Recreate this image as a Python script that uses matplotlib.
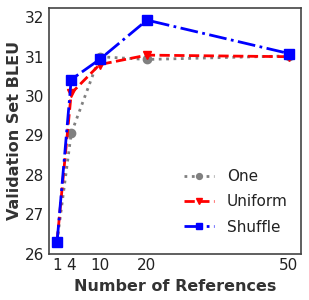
import matplotlib
matplotlib.use("Agg")
import matplotlib.pyplot as plt

refs = [1, 4, 10, 20, 50]
bleu_one = [26.30, 29.05, 31.00, 30.93, 31.02]
bleu_uniform = [26.30, 30.07, 30.80, 31.04, 31.00]
bleu_shuffle = [26.28, 30.42, 30.93, 31.93, 31.08]

plt.rcParams.update({"font.family": "DejaVu Sans", "font.size": 11})

fig, ax = plt.subplots(figsize=(3.09, 3.0), dpi=100)
ax.plot(refs, bleu_one, color="gray", ls=":", lw=2, marker="o", ms=6, label="One")
ax.plot(refs, bleu_uniform, color="red", ls="--", lw=2, marker="v", ms=6, label="Uniform")
ax.plot(refs, bleu_shuffle, color="blue", ls="-.", lw=2, marker="s", ms=6.5, label="Shuffle")

ax.set_xlim(-0.6, 52.6)
ax.set_ylim(26, 32.25)
ax.set_xticks(refs)
ax.set_yticks([26, 27, 28, 29, 30, 31, 32])
ax.tick_params(length=0, labelsize=11, colors="#222222")
for s in ax.spines.values():
    s.set_color("#444444")
    s.set_linewidth(1.2)
ax.set_xlabel("Number of References", fontweight="bold", fontsize=11.5, color="#333333")
ax.set_ylabel("Validation Set BLEU", fontweight="bold", fontsize=11.5, color="#333333",
              labelpad=2)
leg = ax.legend(loc="lower right", frameon=False, fontsize=11, handlelength=2.0,
                markerscale=0.7, labelspacing=0.68, bbox_to_anchor=(1.0, 0.02))
for t in leg.get_texts():
    t.set_color("#222222")

fig.subplots_adjust(left=0.16, right=0.975, top=0.975, bottom=0.155)
fig.savefig("out.png", dpi=100)
